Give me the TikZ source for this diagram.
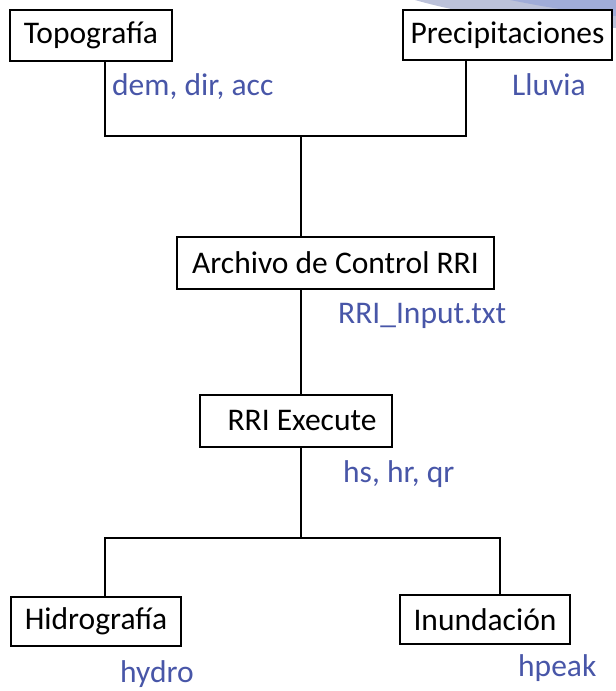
\documentclass[tikz,border=0pt]{standalone}
\usepackage{fontspec}
\setmainfont{Carlito}
\definecolor{lblue}{RGB}{72,86,168}
\definecolor{swoosh}{RGB}{188,194,218}
\definecolor{swoosh2}{RGB}{160,172,216}
\begin{document}
\begin{tikzpicture}[x=1pt,y=-1pt,
  box/.style={draw=black,line width=1.2pt,fill=white,inner sep=0pt,font=\fontsize{31.5}{36}\selectfont},
  lbl/.style={text=lblue,anchor=west,inner sep=0pt,font=\fontsize{31.5}{36}\selectfont},
  conn/.style={draw=black,line width=1.6pt}]
\useasboundingbox (0,0) rectangle (616,691);
% background decoration
\fill[swoosh] (415,0) .. controls (470,16) and (550,26) .. (616,28) -- (616,0) -- cycle;
\fill[swoosh2] (510,0) .. controls (555,9) and (590,14) .. (616,16) -- (616,0) -- cycle;
% coordinates
\coordinate (jt) at (301,136);
\coordinate (jb) at (301,538);
% nodes
\node[box,minimum width=162pt,minimum height=51pt] (topo) at (91,35.5) {Topografía};
\node[box,minimum width=209pt,minimum height=50pt] (prec) at (507.5,35) {Precipitaciones};
\node[box,minimum width=317pt,minimum height=52pt] (arch) at (335.5,263) {Archivo de Control RRI};
\node[box,minimum width=192pt,minimum height=52pt] (exec) at (296,421) {\hspace*{12pt}RRI Execute};
\node[box,minimum width=170pt,minimum height=49pt] (hidro) at (96,621.5) {Hidrografía};
\node[box,minimum width=170pt,minimum height=49pt] (inun) at (485,619.5) {Inundación};
% labels
\node[lbl] (l1) at (112,87) {dem, dir, acc};
\node[lbl] (l2) at (512,85) {Lluvia};
\node[lbl] (l3) at (338,316) {RRI\_Input.txt};
\node[lbl] (l4) at (343,474) {hs, hr, qr};
\node[lbl] (l5) at (120,674) {hydro};
\node[lbl] (l6) at (518,668) {hpeak};
% connectors
\draw[conn] (topo.south -| 105,0) |- (jt);
\draw[conn] (prec.south -| 466,0) |- (jt);
\draw[conn] (jt) -- (arch.north -| jt);
\draw[conn] (arch.south -| jt) -- (exec.north -| jt);
\draw[conn] (exec.south -| jb) -- (jb);
\draw[conn] (jb) -| (hidro.north -| 105,0);
\draw[conn] (jb) -| (inun.north -| 500,0);
\end{tikzpicture}
\end{document}
